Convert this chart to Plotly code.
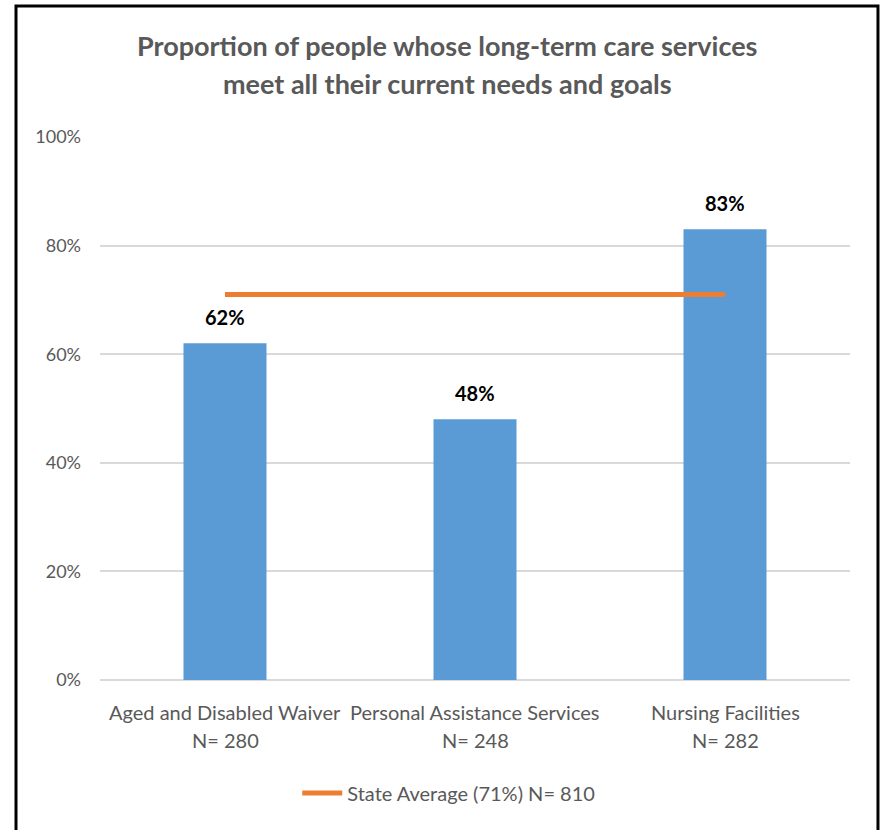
import plotly.graph_objects as go

# Survey results by long-term care program
programs = ["Aged and Disabled Waiver", "Personal Assistance Services", "Nursing Facilities"]
sample_sizes = [280, 248, 282]
pct_needs_met = [62, 48, 83]
state_average = 71
state_n = 810

title_lines = [
    "Proportion of people whose long-term care services",
    "meet all their current needs and goals",
]

BAR_BLUE = "#5B9BD5"
AVG_ORANGE = "#ED7D31"
TEXT_GRAY = "#595959"
GRID_GRAY = "#D9D9D9"
FONT = "Lato"

fig = go.Figure()

fig.add_trace(go.Bar(
    x=programs,
    y=pct_needs_met,
    marker=dict(color=BAR_BLUE, line=dict(width=0)),
    showlegend=False,
    hoverinfo="skip",
))

fig.add_trace(go.Scatter(
    x=programs,
    y=[state_average] * len(programs),
    mode="lines",
    line=dict(color=AVG_ORANGE, width=5),
    name=f"State Average ({state_average}%) N= {state_n}",
    hoverinfo="skip",
))

annotations = []

# value labels above each bar
for prog, val in zip(programs, pct_needs_met):
    annotations.append(dict(
        x=prog, y=val, xref="x", yref="y",
        text=f"<b>{val}%</b>", showarrow=False,
        yanchor="bottom", yshift=12,
        font=dict(family=FONT, size=20, color="#000000"),
    ))

# category labels with sample sizes
for prog, n in zip(programs, sample_sizes):
    annotations.append(dict(
        x=prog, y=0, xref="x", yref="y",
        text=prog, showarrow=False,
        yanchor="middle", yshift=-32,
        font=dict(family=FONT, size=20, color=TEXT_GRAY),
    ))
    annotations.append(dict(
        x=prog, y=0, xref="x", yref="y",
        text=f"N= {n}", showarrow=False,
        yanchor="middle", yshift=-60,
        font=dict(family=FONT, size=20, color=TEXT_GRAY),
    ))

# two-line title
for i, line in enumerate(title_lines):
    annotations.append(dict(
        x=0.4627, y=1.168 - i * 0.070, xref="paper", yref="paper",
        text=f"<b>{line}</b>", showarrow=False,
        xanchor="center", yanchor="middle",
        font=dict(family=FONT, size=27, color=TEXT_GRAY),
    ))

fig.update_layout(
    width=882, height=830,
    margin=dict(l=100, r=32, t=137, b=150),
    paper_bgcolor="white",
    plot_bgcolor="white",
    bargap=0.668,
    annotations=annotations,
    showlegend=True,
    legend=dict(
        orientation="h",
        x=0.465, xanchor="center",
        y=-0.208, yanchor="middle",
        font=dict(family=FONT, size=20, color=TEXT_GRAY),
        itemwidth=40,
    ),
    font=dict(family=FONT, color=TEXT_GRAY),
    shapes=[
        dict(type="rect", xref="paper", yref="paper",
             x0=-0.112, x1=1.0373, y0=-0.29, y1=1.2413,
             line=dict(color="#000000", width=3), fillcolor="rgba(0,0,0,0)"),
    ],
)

fig.update_xaxes(
    showticklabels=False,
    showgrid=False,
    showline=False,
    zeroline=False,
)

fig.update_yaxes(
    range=[0, 100],
    dtick=20,
    ticksuffix="%",
    showgrid=True,
    gridcolor=GRID_GRAY,
    gridwidth=2,
    zeroline=True,
    zerolinecolor=GRID_GRAY,
    zerolinewidth=2,
    showline=False,
    ticklabelstandoff=18,
    tickfont=dict(family=FONT, size=18, color=TEXT_GRAY),
)

fig.write_html("out.html")
